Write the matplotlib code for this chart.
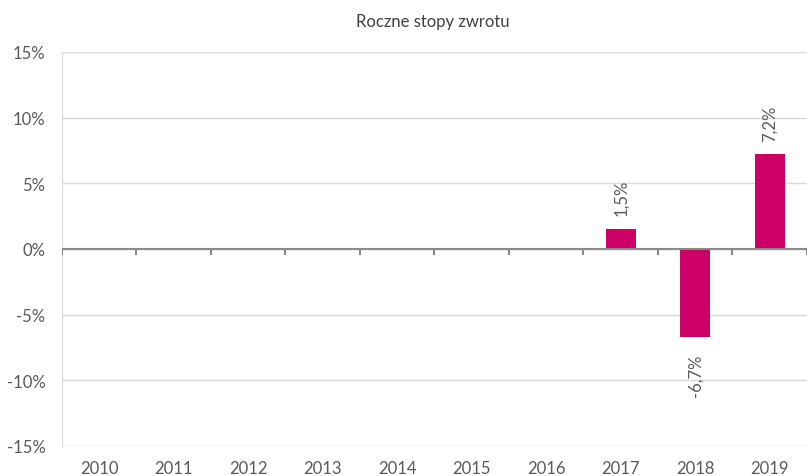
import numpy as np
import matplotlib.pyplot as plt

# dane
years = ["2010", "2011", "2012", "2013", "2014", "2015", "2016", "2017", "2018", "2019"]
returns = [np.nan, np.nan, np.nan, np.nan, np.nan, np.nan, np.nan, 1.5, -6.7, 7.2]
y_ticks = [-15, -10, -5, 0, 5, 10, 15]

bar_color = "#CC0066"
text_color = "#595959"
grid_color = "#D9D9D9"

plt.rcParams["font.family"] = ["Lato", "DejaVu Sans"]

fig = plt.figure(figsize=(8.07, 4.77), dpi=100)
ax = fig.add_axes([0.0768, 0.0629, 0.9232, 0.826])

x = np.arange(len(years))
ax.bar(x, returns, width=0.4, color=bar_color, zorder=3)

ax.set_xlim(-0.5, len(years) - 0.5)
ax.set_ylim(-15, 15)
ax.set_yticks(y_ticks)
ax.set_yticklabels([f"{v}%" for v in y_ticks])
ax.set_xticks(x)
ax.set_xticklabels(years)
ax.tick_params(axis="both", length=0, colors=text_color, labelsize=12)
ax.tick_params(axis="x", pad=10)
ax.tick_params(axis="y", pad=12)

ax.yaxis.grid(True, color=grid_color, linewidth=1, zorder=0)
for side in ["top", "right", "bottom"]:
    ax.spines[side].set_visible(False)
ax.spines["left"].set_color(grid_color)

# linia zera z kreskami
ax.axhline(0, color="#898989", linewidth=1.5, zorder=4)
ax.vlines(np.arange(len(years) + 1) - 0.5, -0.45, 0, color="#898989", linewidth=1.5, zorder=4)

# etykiety danych
for xi, v in zip(x, returns):
    if np.isnan(v):
        continue
    label = f"{v:.1f}%".replace(".", ",")
    if v >= 0:
        ax.annotate(label, (xi, v), xytext=(0, 10), textcoords="offset points",
                    rotation=90, ha="center", va="bottom", color=text_color, fontsize=12)
    else:
        ax.annotate(label, (xi, v), xytext=(0, -12), textcoords="offset points",
                    rotation=90, ha="center", va="top", color=text_color, fontsize=12)

fig.text(0.536, 0.953, "Roczne stopy zwrotu", ha="center", va="center",
         color="#404040", fontsize=12)

fig.savefig("out.png", dpi=100)
